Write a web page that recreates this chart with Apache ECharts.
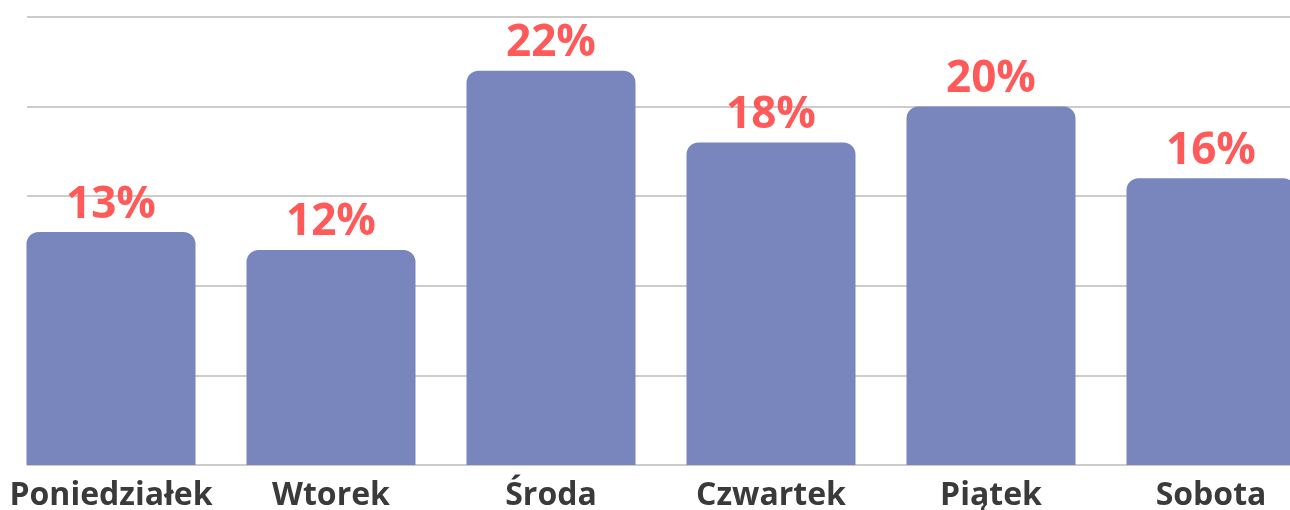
<!DOCTYPE html>
<html>
<head>
<meta charset="utf-8">
<script src="https://cdn.jsdelivr.net/npm/echarts@6/dist/echarts.min.js"></script>
<style>
  html, body { margin: 0; padding: 0; background: #fff; }
  #chart-container { width: 1290px; height: 510px; }
</style>
</head>
<body>
<div id="chart-container"></div>
<script>
const days = ["Poniedziałek", "Wtorek", "Środa", "Czwartek", "Piątek", "Sobota"];
const shares = [13, 12, 22, 18, 20, 16];
const yTicks = [0, 5, 10, 15, 20, 25];

const chartContainer = document.getElementById("chart-container");
const myChart = echarts.init(chartContainer);

const option = {
  animation: false,
  grid: [
    // grid lines only
    { left: 27, right: 0, top: 17, bottom: 45, outerBoundsMode: "none" },
    // bars (wider than the page, the last bar is cut at the edge)
    { left: 1, width: 1320, top: 17, bottom: 45, outerBoundsMode: "none" },
  ],
  xAxis: [
    { gridIndex: 0, type: "value", min: 0, max: 1, show: false },
    {
      gridIndex: 1,
      type: "category",
      data: days,
      axisLine: { show: false },
      axisTick: { show: false },
      axisLabel: {
        interval: 0,
        hideOverlap: false,
        margin: 15,
        color: "#3a3a3a",
        fontFamily: "Open Sans",
        fontWeight: "bold",
        fontSize: 32,
      },
    },
  ],
  yAxis: [
    {
      gridIndex: 0,
      type: "value",
      min: yTicks[0],
      max: yTicks[yTicks.length - 1],
      interval: 5,
      axisLine: { show: false },
      axisTick: { show: false },
      axisLabel: { show: false },
      splitLine: { lineStyle: { color: "#cccccc", width: 2 } },
    },
    {
      gridIndex: 1,
      type: "value",
      min: yTicks[0],
      max: yTicks[yTicks.length - 1],
      show: false,
    },
  ],
  series: [
    {
      type: "bar",
      xAxisIndex: 1,
      yAxisIndex: 1,
      data: shares,
      barWidth: 169,
      itemStyle: {
        color: "#7886bd",
        borderRadius: [12, 12, 0, 0],
      },
      label: {
        show: true,
        position: "top",
        distance: 5,
        formatter: "{c}%",
        color: "#ff5a5a",
        fontFamily: "Open Sans",
        fontWeight: "bold",
        fontSize: 44,
      },
    },
  ],
};
myChart.setOption(option);
</script>
</body>
</html>
